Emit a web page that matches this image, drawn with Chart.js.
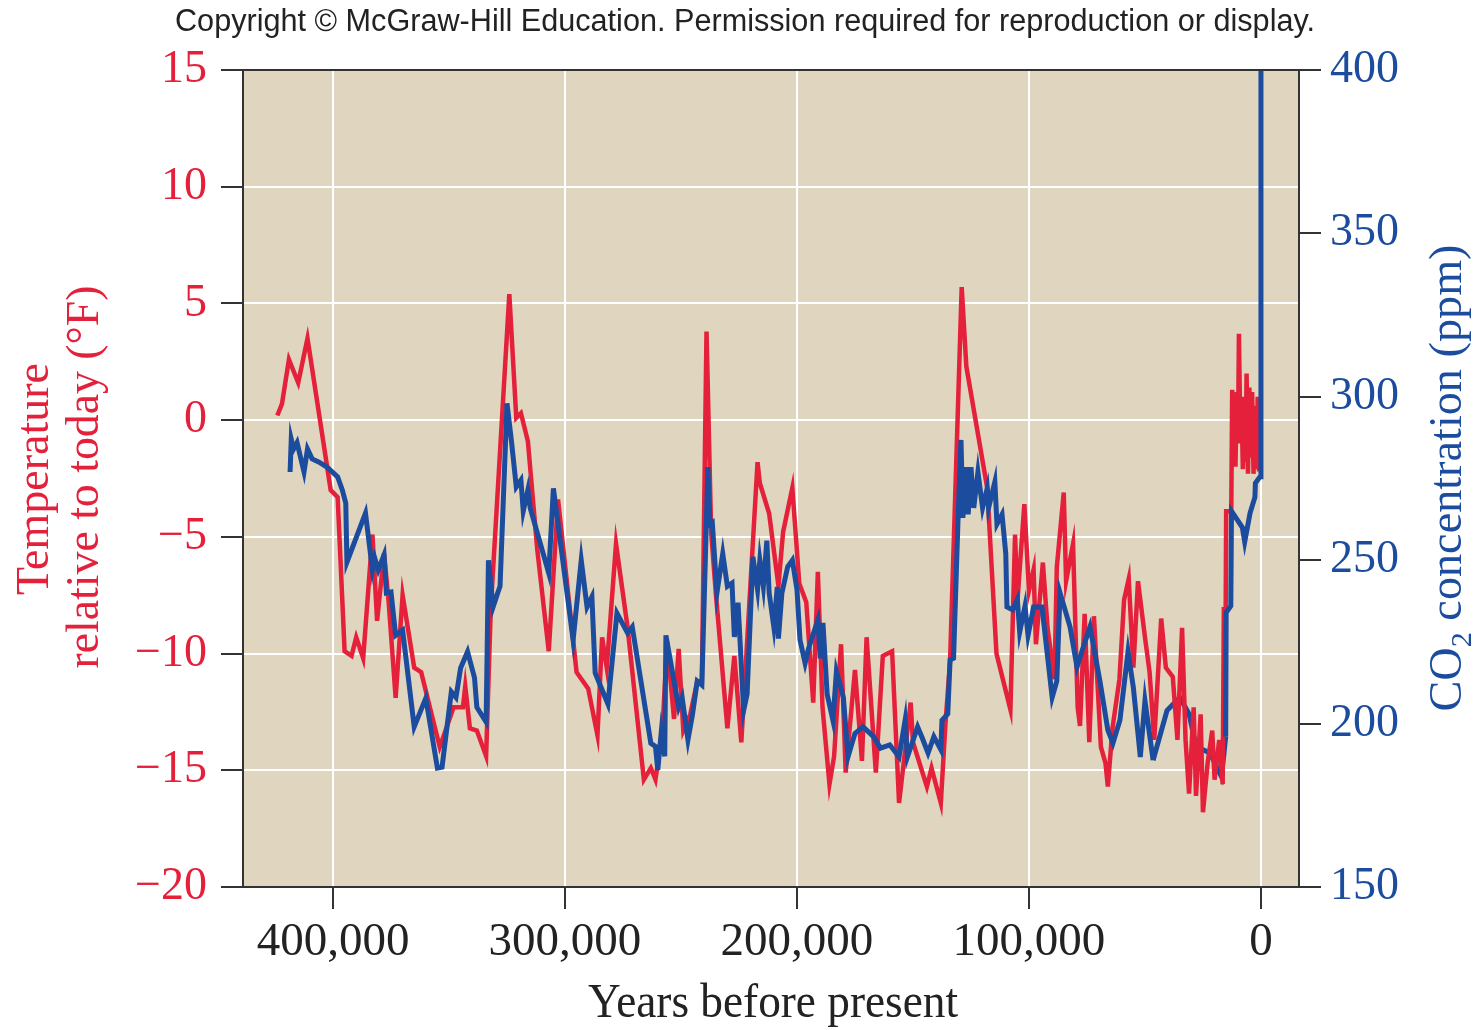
<!DOCTYPE html>
<html>
<head>
<meta charset="utf-8">
<script src="https://cdn.jsdelivr.net/npm/chart.js@4.4.1/dist/chart.umd.min.js"></script>
<style>
  html, body { margin: 0; padding: 0; background: #fff; }
  #wrap { width: 1476px; height: 1030px; }
</style>
</head>
<body>
<div id="wrap"><canvas id="chart" width="1476" height="1030"></canvas></div>
<script>
// thousands of years before present / temperature relative to today (°F)
const tempKyr = [424, 422, 419, 415, 411, 401, 398, 395, 392, 390, 387, 383, 381, 378, 376, 373, 370, 365, 362, 354,
  348, 344, 343, 341, 338, 334, 332, 324, 321, 319, 316, 312, 307, 303, 295, 290, 286, 284, 282, 278,
  273, 266, 263, 261, 258, 256, 253, 251, 249, 246, 243, 241, 239, 237, 235, 230, 227, 224, 217, 216,
  212, 208, 206, 202, 199, 196, 193, 191, 189, 186, 184, 181, 179, 175, 172, 170, 166, 163, 159, 156,
  151, 150, 144, 142, 138, 136, 134, 129, 127, 118, 114, 108, 106, 105, 102, 100, 98, 97, 94, 92,
  89, 88, 85, 84, 81, 79, 78, 76, 74, 72, 69, 67, 66, 64, 61, 59, 57, 55, 53, 50,
  48, 46, 43, 41, 38, 36, 34, 32.5, 31, 29, 28, 26, 25, 23, 21, 20, 18, 16.5, 16, 15.2,
  15, 12.8, 12.4, 12.0, 11.5, 11.0, 10.4, 9.9, 9.5, 8.9, 8.4, 7.8, 7.3, 6.6, 6.2, 5.6, 5.0, 4.4, 3.8, 3.2,
  2.6, 2.0, 1.4, 0.8, 0.3];
const tempF = [0.2, 0.7, 2.6, 1.6, 3.5, -3.0, -3.3, -9.9, -10.1, -9.3, -10.2, -4.9, -8.6, -5.7, -7.8, -11.9, -7.5, -10.6, -10.8, -14.0,
  -12.3, -12.3, -11.4, -13.2, -13.3, -14.4, -8.1, 5.4, 0.1, 0.3, -0.9, -5.5, -9.9, -3.4, -10.8, -11.5, -13.5, -9.3, -10.6, -5.3,
  -8.9, -15.4, -14.9, -15.4, -13.3, -9.5, -12.8, -9.8, -13.3, -12.6, -11.2, -11.2, 3.8, -4.8, -7.4, -13.2, -10.1, -13.8, -1.8, -2.7,
  -4.0, -7.1, -4.8, -2.9, -7.0, -7.8, -12.1, -6.5, -12.3, -15.6, -14.4, -9.6, -15.1, -10.7, -14.6, -9.3, -15.1, -10.1, -9.9, -16.4,
  -12.1, -13.8, -15.7, -14.9, -16.4, -13.0, -10.3, 5.7, 2.3, -2.9, -10.0, -12.4, -4.9, -7.8, -3.6, -7.3, -6.4, -9.6, -6.1, -8.9,
  -11.1, -6.3, -3.1, -6.9, -5.3, -12.3, -13.1, -8.3, -13.8, -8.4, -14.0, -14.7, -15.7, -13.2, -11.1, -7.7, -6.8, -10.6, -6.9, -9.3,
  -10.8, -13.7, -8.5, -10.6, -11.0, -13.7, -8.9, -13.7, -16.0, -12.3, -16.1, -12.6, -16.8, -14.7, -13.3, -15.4, -13.7, -15.6, -8.1, -8.1,
  -3.9, -3.9, 1.3, -1.5, 0.9, -2.0, 1.2, -1.0, 3.7, -0.5, 0.8, -2.1, 1.0, -1.8, 2.0, -2.3, 1.4, -1.6, 1.2, -2.3,
  0.6, -2.1, 1.0, -2.2, 0.2];

// thousands of years before present / CO2 (ppm)
const co2Kyr = [418.5, 418, 417, 415.5, 413.5, 412.5, 411, 409, 406, 402.6, 398, 396, 394.5, 394, 386, 383, 382, 380.5, 378, 377,
  375, 373, 370, 365, 360, 355, 353, 349, 347, 345, 342, 339, 338, 334, 333, 331, 329, 328, 325, 323,
  321, 319, 318, 316, 315, 307, 305, 296.5, 293, 290.5, 288.4, 287, 281.5, 277.6, 273, 271, 263, 261, 260, 258.5,
  257, 256.5, 251, 249.5, 247, 245, 243, 241, 238.4, 237.5, 236.5, 234.5, 232, 230, 228, 227, 225.4, 223, 221.5, 219,
  217, 216, 214.5, 213, 212, 210, 208.5, 208, 206.5, 204, 202, 200, 198.7, 196.5, 195, 191, 190, 188.8, 187, 184.5,
  183, 180, 178, 175, 171.5, 167, 164, 160, 156, 153.4, 152.4, 148, 146, 143.5, 141, 138, 137.5, 135, 134, 132.5,
  130.6, 129.3, 128.5, 127, 126.2, 125, 123.8, 122, 120, 118, 117.4, 114.7, 113.8, 111.6, 110, 109.5, 107, 105, 104, 101.7,
  100.4, 98, 94.4, 90, 88, 86.6, 82.3, 79.3, 77, 73.7, 69.4, 66, 63.8, 60.8, 57.3, 55, 52, 50, 46.5, 40.5,
  35, 31, 28, 22, 17, 15.2, 15, 13, 12.7, 8, 7, 4.7, 2.6, 2.4, 0.4, 0];
const co2Ppm = [277, 287, 284, 286, 280, 277, 284, 281, 280, 278.5, 275.5, 271.5, 267.5, 249.4, 264.4, 247, 250.6, 247, 251.6, 240,
  240.3, 227, 228.6, 199, 207.8, 186.4, 186.7, 209.7, 208, 217, 222, 214, 205, 200.5, 250, 235.7, 240, 242, 298, 285.9,
  272.4, 274.5, 265, 271.5, 266, 246, 272, 225.6, 250, 235.7, 238.8, 215.5, 206, 233.8, 227.7, 229.6, 194, 193, 185.8, 197.4,
  190, 227, 205, 208, 195, 203, 213, 211.8, 278.5, 261, 261.5, 240, 252, 242, 243, 226.5, 237, 204, 209, 251,
  241, 250, 242, 256, 240, 229.6, 241.8, 226, 240, 248, 250, 241, 225.6, 218.5, 223, 231.7, 220, 230.8, 209, 201,
  216, 208, 189.8, 197, 199, 196, 192.5, 193.5, 189.8, 201, 189.8, 199, 195.6, 191, 196, 192, 201, 203, 219.5, 220,
  262, 286.8, 263, 278.5, 264, 278.5, 266, 277, 266, 272, 266, 274, 261, 264, 252, 235.7, 234.8, 238, 228, 236,
  227, 235.7, 235.7, 208, 213, 240, 229.6, 217.3, 222.5, 229.6, 213, 198, 194, 201, 222, 211, 189.8, 207, 188.8, 204,
  208, 203, 193, 191, 183.7, 196, 234, 236, 265, 260, 255.6, 264.4, 269.3, 273.6, 275.5, 400];

// stretch of the CO2 record that sits under the temperature trace in the figure
const co2HiddenFrom = 46.5;
const co2HiddenTo = 15.2;

const xTicks = [400000, 300000, 200000, 100000, 0];
const tempRange = [-20, 15, 5];
const co2Range = [150, 400, 50];

const RED = '#e5203a';
const BLUE = '#1b4c9e';
const SERIF = '"Liberation Serif", "Times New Roman", serif';

const tempPoints = tempKyr.map((k, i) => ({ x: k * 1000, y: tempF[i] }));
const co2Points = co2Kyr.map((k, i) => ({ x: k * 1000, y: co2Ppm[i] }));
// split CO2 into the part drawn on top and the part drawn underneath (endpoints shared)
const co2Under = co2Points.filter(p => p.x <= co2HiddenFrom * 1000 && p.x >= co2HiddenTo * 1000);
const co2Top = co2Points.map(p => (p.x < co2HiddenFrom * 1000 && p.x > co2HiddenTo * 1000) ? { x: p.x, y: null } : p);

function fmtMinus(v) { return v < 0 ? '\u2212' + Math.abs(v) : String(v); }

// draws text scaled horizontally to a target width
function fitText(ctx, text, x, y, font, color, width, rot) {
  ctx.save();
  ctx.font = font;
  ctx.fillStyle = color;
  ctx.textAlign = 'center';
  ctx.textBaseline = 'middle';
  ctx.translate(x, y);
  if (rot) ctx.rotate(rot);
  const w = ctx.measureText(text).width;
  ctx.scale(width / w, 1);
  ctx.fillText(text, 0, 0);
  ctx.restore();
}

const decor = {
  id: 'decor',
  beforeDraw(chart) {
    const { ctx, chartArea: a } = chart;
    ctx.save();
    ctx.fillStyle = '#fff';
    ctx.fillRect(0, 0, chart.width, chart.height);
    ctx.fillStyle = '#e0d5bf';
    ctx.fillRect(a.left, a.top, a.right - a.left, a.bottom - a.top);
    ctx.restore();
  },
  afterDraw(chart) {
    const { ctx, chartArea: a } = chart;
    ctx.save();
    ctx.strokeStyle = '#333';
    ctx.lineWidth = 2;
    ctx.beginPath();
    ctx.moveTo(a.left - 1, a.top);
    ctx.lineTo(a.right + 1, a.top);
    ctx.moveTo(a.right, a.bottom);
    ctx.lineTo(a.right + 22, a.bottom);
    ctx.stroke();
    ctx.restore();

    fitText(ctx, 'Copyright \u00a9 McGraw-Hill Education. Permission required for reproduction or display.',
      745, 22, '31px "Liberation Sans", Arial, sans-serif', '#222', 1140, 0);
    fitText(ctx, 'Years before present', 773, 1004, '48px ' + SERIF, '#222', 370, 0);
    fitText(ctx, 'Temperature', 36, 479, '46px ' + SERIF, RED, 232, -Math.PI / 2);
    fitText(ctx, 'relative to today (\u00b0F)', 86, 477, '46px ' + SERIF, RED, 383, -Math.PI / 2);

    // CO2 title with a real subscript
    ctx.save();
    ctx.fillStyle = BLUE;
    ctx.textBaseline = 'alphabetic';
    ctx.textAlign = 'left';
    const big = '46px ' + SERIF, small = '30px ' + SERIF;
    ctx.font = big;
    const w1 = ctx.measureText('CO').width;
    const w3 = ctx.measureText(' concentration (ppm)').width;
    ctx.font = small;
    const w2 = ctx.measureText('2').width;
    const total = w1 + w2 + w3;
    const sx = 467 / total;
    ctx.translate(1461, 478);
    ctx.rotate(-Math.PI / 2);
    ctx.scale(sx, 1);
    const x0 = -total / 2;
    ctx.font = big;
    ctx.fillText('CO', x0, 0);
    ctx.font = small;
    ctx.fillText('2', x0 + w1, 10);
    ctx.font = big;
    ctx.fillText(' concentration (ppm)', x0 + w1 + w2, 0);
    ctx.restore();
  }
};

new Chart(document.getElementById('chart'), {
  type: 'line',
  data: {
    datasets: [
      { label: 'CO2', data: co2Top, yAxisID: 'yCO2', borderColor: BLUE, borderWidth: 5,
        pointRadius: 0, tension: 0, borderJoinStyle: 'miter', spanGaps: false, order: 0 },
      { label: 'Temperature', data: tempPoints, yAxisID: 'yTemp', borderColor: RED, borderWidth: 4.5,
        pointRadius: 0, tension: 0, borderJoinStyle: 'miter', order: 1 },
      { label: 'CO2 (under)', data: co2Under, yAxisID: 'yCO2', borderColor: BLUE, borderWidth: 5,
        pointRadius: 0, tension: 0, borderJoinStyle: 'miter', order: 2 }
    ]
  },
  options: {
    responsive: false,
    animation: false,
    devicePixelRatio: 1,
    layout: { padding: { top: 70, left: 0, right: 0, bottom: 0 } },
    plugins: { legend: { display: false }, tooltip: { enabled: false }, title: { display: false } },
    scales: {
      x: {
        type: 'linear', position: 'bottom', reverse: true, min: -16400, max: 438800,
        afterBuildTicks: s => { s.ticks = xTicks.map(v => ({ value: v })); },
        afterFit: s => { s.height = 143; },
        ticks: { color: '#222', font: { family: SERIF, size: 47 }, padding: 5, maxRotation: 0, autoSkip: false,
          callback: v => v.toLocaleString('en-US') },
        grid: { color: '#fff', lineWidth: 2, tickColor: '#333', tickLength: 22 },
        border: { color: '#333', width: 2 }
      },
      yTemp: {
        type: 'linear', position: 'left', min: tempRange[0], max: tempRange[1],
        afterFit: s => { s.width = 243; },
        ticks: { stepSize: tempRange[2], color: RED, font: { family: SERIF, size: 46 }, padding: 14,
          callback: v => fmtMinus(v) },
        grid: { color: '#fff', lineWidth: 2, tickColor: '#333', tickLength: 22 },
        border: { color: '#333', width: 2 }
      },
      yCO2: {
        type: 'linear', position: 'right', min: co2Range[0], max: co2Range[1],
        afterFit: s => { s.width = 177; },
        ticks: { stepSize: co2Range[2], color: BLUE, font: { family: SERIF, size: 46 }, padding: 9 },
        grid: { drawOnChartArea: false, tickColor: '#333', tickLength: 22, lineWidth: 2 },
        border: { color: '#333', width: 2 }
      }
    }
  },
  plugins: [decor]
});
</script>
</body>
</html>
